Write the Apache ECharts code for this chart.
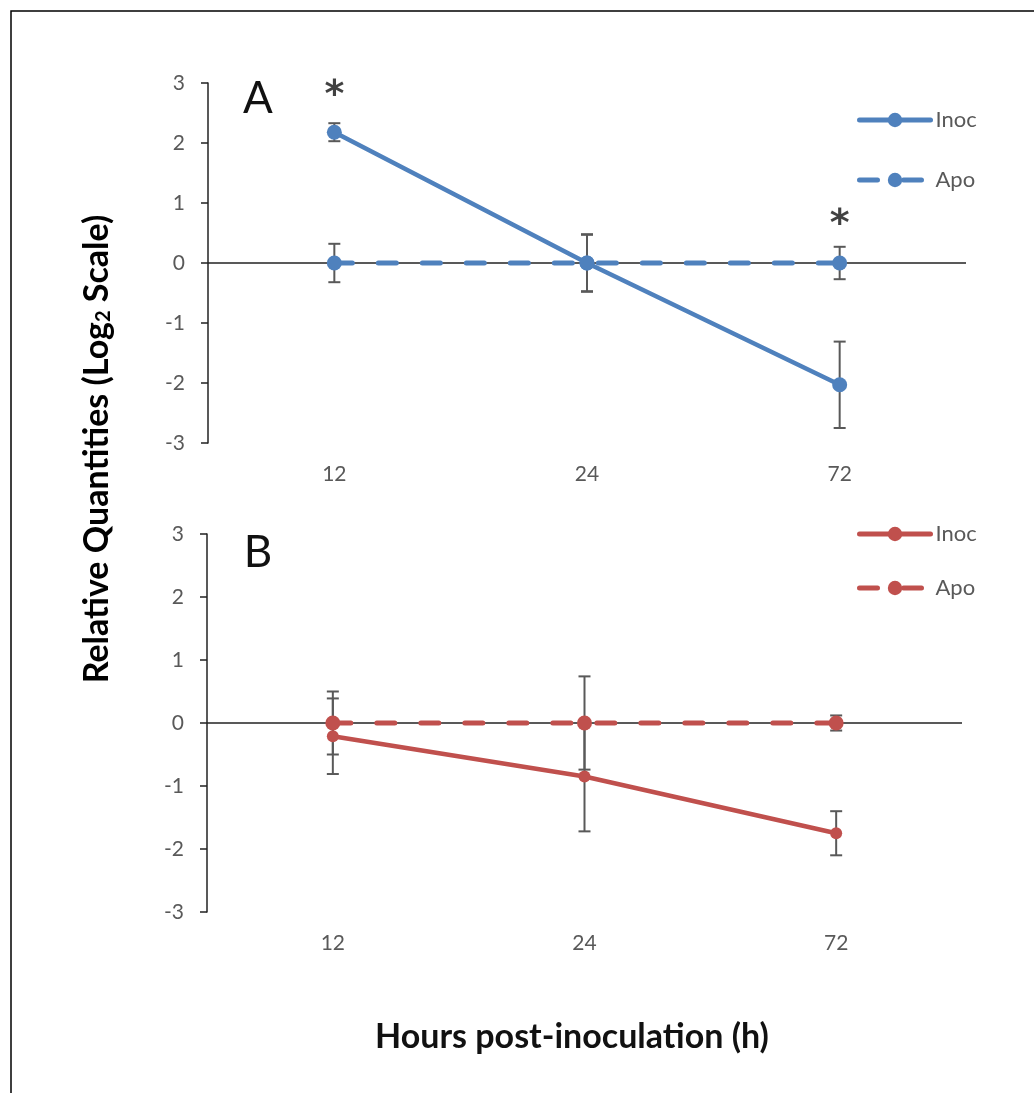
<!DOCTYPE html>
<html>
<head>
<meta charset="utf-8">
<script src="https://cdn.jsdelivr.net/npm/echarts@6/dist/echarts.min.js"></script>
<style>
  html, body { margin: 0; padding: 0; background: #fff; }
  #chart { width: 1034px; height: 1093px; }
</style>
</head>
<body>
<div id="chart"></div>
<script>
// values
const hours = ['12', '24', '72']
const yTicks = [-3, 3, 1]   // min, max, interval

const inocA = [2.18, 0, -2.03]
const inocAErr = [0.15, 0.47, 0.72]
const apoA = [0, 0, 0]
const apoAErr = [0.32, 0.48, 0.27]
const starsA = [[0, 2.93], [2, 0.78]]

const inocB = [-0.21, -0.85, -1.75]
const inocBErr = [0.6, 0.87, 0.35]
const apoB = [0, 0, 0]
const apoBErr = [0.5, 0.74, 0.12]

const blue = '#4F81BD'
const red = '#C0504D'
const grey = '#595959'
const font = 'Lato, "Liberation Sans", sans-serif'

const errData = (vals, errs) => vals.map((v, i) => [i, v - errs[i], v + errs[i]])

const renderErr = (params, api) => {
  const x = api.value(0)
  const lo = api.coord([x, api.value(1)])
  const hi = api.coord([x, api.value(2)])
  const w = 6
  const style = { stroke: grey, lineWidth: 2 }
  return {
    type: 'group',
    children: [
      { type: 'line', shape: { x1: lo[0], y1: lo[1], x2: hi[0], y2: hi[1] }, style },
      { type: 'line', shape: { x1: lo[0] - w, y1: lo[1], x2: lo[0] + w, y2: lo[1] }, style },
      { type: 'line', shape: { x1: hi[0] - w, y1: hi[1], x2: hi[0] + w, y2: hi[1] }, style }
    ]
  }
}

const zeroLine = {
  silent: true,
  z: 1,
  symbol: ['none', 'none'],
  label: { show: false },
  lineStyle: { color: '#222', width: 1.5, type: 'solid' },
  emphasis: { disabled: true },
  data: [{ yAxis: 0 }]
}

const xAxisFor = (idx) => ({
  type: 'category',
  gridIndex: idx,
  data: hours,
  position: 'bottom',
  axisLine: { show: false, onZero: false },
  axisTick: { show: false },
  axisLabel: { color: grey, fontSize: 21, fontFamily: font, margin: 21 }
})

const yAxisFor = (idx) => ({
  type: 'value',
  gridIndex: idx,
  min: yTicks[0],
  max: yTicks[1],
  interval: yTicks[2],
  splitLine: { show: false },
  axisLine: { show: true, lineStyle: { color: '#222', width: 1.5 } },
  axisTick: { show: true, length: 7, lineStyle: { color: '#222', width: 1.5 } },
  axisLabel: { color: grey, fontSize: 21, fontFamily: font, margin: 23 }
})

const lineSeries = (name, idx, data, color, dashed, size) => ({
  name,
  type: 'line',
  xAxisIndex: idx,
  yAxisIndex: idx,
  data,
  z: 3,
  symbol: 'circle',
  symbolSize: size,
  itemStyle: { color },
  lineStyle: dashed
    ? { color, width: 5, type: [18, 26], cap: 'round' }
    : { color, width: 4.5, cap: 'round' },
  emphasis: { disabled: true },
  animation: false
})

const errSeries = (idx, data) => ({
  type: 'custom',
  xAxisIndex: idx,
  yAxisIndex: idx,
  data,
  z: 2,
  renderItem: renderErr,
  silent: true,
  animation: false
})

const legendFor = (names, top, gap) => ({
  data: names,
  formatter: name => name.replace(' B', ''),
  orient: 'vertical',
  left: 857, top,
  padding: 0,
  itemWidth: 71, itemHeight: 18, itemGap: gap,
  lineStyle: { width: 5, cap: 'round' },
  textStyle: { color: grey, fontSize: 22, fontFamily: font },
  selectedMode: false
})

const chart = echarts.init(document.getElementById('chart'))

chart.setOption({
  backgroundColor: '#fff',
  animation: false,
  grid: [
    { left: 208, top: 83, width: 758, height: 360 },
    { left: 207, top: 534, width: 755, height: 378 }
  ],
  xAxis: [xAxisFor(0), xAxisFor(1)],
  yAxis: [yAxisFor(0), yAxisFor(1)],
  legend: [
    legendFor(['Inoc', 'Apo'], 109, 38),
    legendFor(['Inoc B', 'Apo B'], 523, 32)
  ],
  series: [
    Object.assign(errSeries(0, errData(apoA, apoAErr)), { markLine: zeroLine }),
    errSeries(0, errData(inocA, inocAErr)),
    lineSeries('Inoc', 0, inocA, blue, false, 15),
    lineSeries('Apo', 0, apoA, blue, true, 15),
    {
      type: 'scatter',
      xAxisIndex: 0,
      yAxisIndex: 0,
      data: starsA,
      symbolSize: 1,
      itemStyle: { color: 'rgba(0,0,0,0)' },
      label: {
        show: true, position: 'inside', formatter: '*',
        color: '#111', fontSize: 38, fontWeight: 'bold',
        fontFamily: '"DejaVu Sans", sans-serif', offset: [0, 9]
      },
      silent: true,
      z: 4
    },
    Object.assign(errSeries(1, errData(apoB, apoBErr)), { markLine: zeroLine }),
    errSeries(1, errData(inocB, inocBErr)),
    lineSeries('Inoc B', 1, inocB, red, false, 12),
    lineSeries('Apo B', 1, apoB, red, true, 15)
  ],
  graphic: [
    {
      type: 'rect', silent: true, z: -1,
      shape: { x: 11, y: 11, width: 1200, height: 1200 },
      style: { fill: 'none', stroke: '#000', lineWidth: 1.5 }
    },
    {
      type: 'text', x: 258, y: 99,
      style: { text: 'A', fill: '#111', font: '44px ' + font, textAlign: 'center', textVerticalAlign: 'middle' }
    },
    {
      type: 'text', x: 258, y: 553,
      style: { text: 'B', fill: '#111', font: '44px ' + font, textAlign: 'center', textVerticalAlign: 'middle' }
    },
    {
      type: 'text', x: 572, y: 1037,
      style: {
        text: 'Hours post-inoculation (h)', fill: '#111',
        font: 'bold 34px ' + font, textAlign: 'center', textVerticalAlign: 'middle'
      }
    },
    {
      type: 'text', x: 92, y: 449, rotation: Math.PI / 2,
      style: {
        text: '{t|Relative Quantities (Log}{s|2}{t| Scale)}',
        textAlign: 'center', textVerticalAlign: 'middle',
        rich: {
          t: { fontSize: 34, fontWeight: 'bold', fontFamily: font, color: '#111', lineHeight: 44, verticalAlign: 'bottom' },
          s: { fontSize: 20, fontWeight: 'bold', fontFamily: font, color: '#111', lineHeight: 20, verticalAlign: 'bottom' }
        }
      }
    }
  ]
})
</script>
</body>
</html>
